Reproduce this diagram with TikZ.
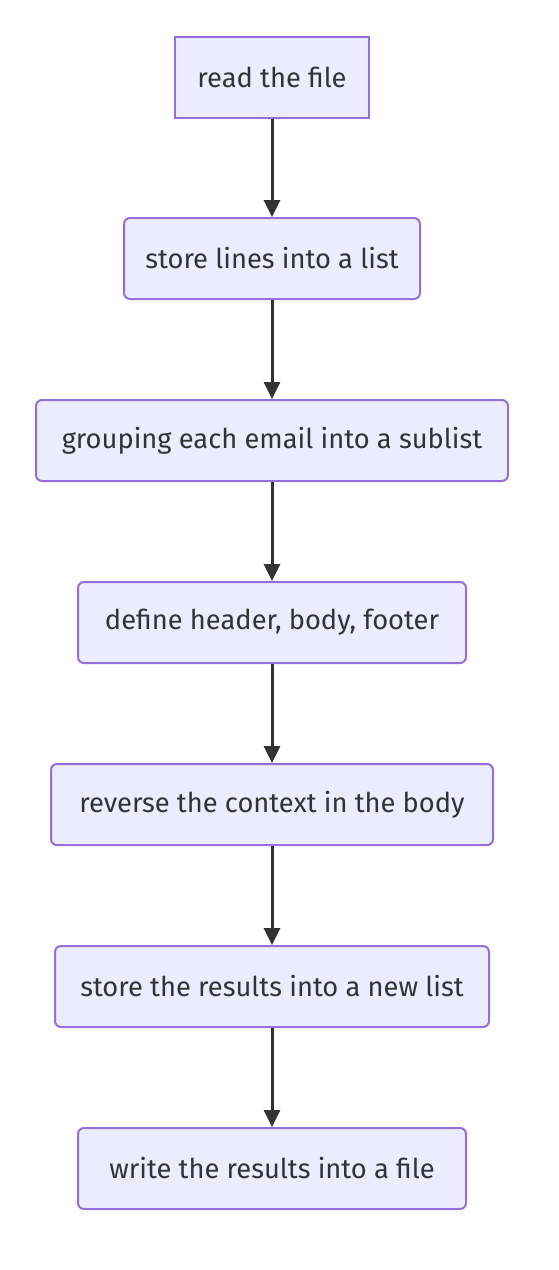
\documentclass[tikz,border=0pt]{standalone}
\usepackage{fontspec}
\setmainfont{Fira Sans}
\usetikzlibrary{arrows.meta}
\definecolor{nfill}{HTML}{ECECFF}
\definecolor{nborder}{HTML}{9370DB}
\definecolor{ntext}{HTML}{333333}
\begin{document}
\begin{tikzpicture}[x=1pt,y=-1pt,
  box/.style={draw=nborder, fill=nfill, line width=2pt, text=ntext, font=\fontsize{27.3}{32}\selectfont, minimum height=81pt, inner sep=0pt, rounded corners=6pt},
  sqbox/.style={box, rounded corners=0pt},
  conn/.style={draw=ntext, line width=3pt, -{Triangle[length=17pt,width=16pt]}}]
\useasboundingbox (0,0) rectangle (558,1270);
\node[sqbox, minimum width=194pt] (n1) at (272,77) {read the file};
\node[box, minimum width=296pt] (n2) at (272,258.5) {store lines into a list};
\node[box, minimum width=472pt] (n3) at (272,440.5) {grouping each email into a sublist};
\node[box, minimum width=388pt] (n4) at (272,622.5) {define header, body, footer};
\node[box, minimum width=442pt] (n5) at (272,804.5) {reverse the context in the body};
\node[box, minimum width=434pt] (n6) at (272,986.5) {store the results into a new list};
\node[box, minimum width=388pt] (n7) at (272,1168.5) {write the results into a file};
\draw[conn] (n1) -- (n2);
\draw[conn] (n2) -- (n3);
\draw[conn] (n3) -- (n4);
\draw[conn] (n4) -- (n5);
\draw[conn] (n5) -- (n6);
\draw[conn] (n6) -- (n7);
\end{tikzpicture}
\end{document}
